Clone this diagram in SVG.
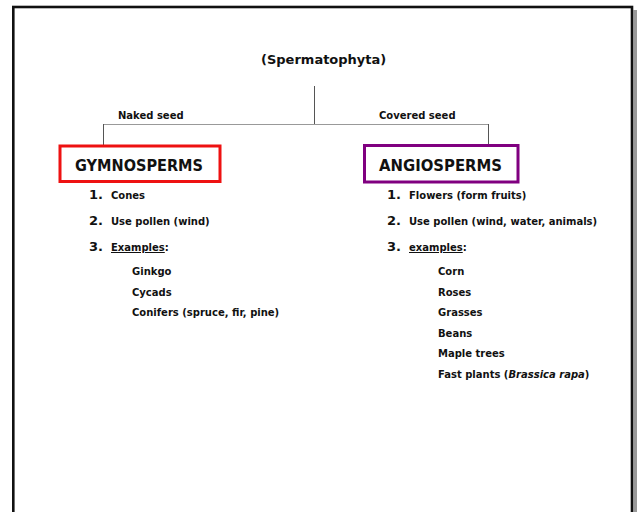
<svg xmlns="http://www.w3.org/2000/svg" width="640" height="512" viewBox="0 0 640 512">
<style>
.t{font-family:"DejaVu Sans","Verdana",sans-serif;font-weight:bold;font-size:10px;fill:#111}
.num{font-family:"DejaVu Sans","Verdana",sans-serif;font-weight:bold;font-size:13px;fill:#111}
.hd{font-family:"DejaVu Sans","Verdana",sans-serif;font-weight:bold;font-size:16.5px;fill:#111}
.ttl{font-family:"DejaVu Sans","Verdana",sans-serif;font-weight:bold;font-size:13px;fill:#111}
.conn{stroke:#555;stroke-width:1;fill:none}
</style>
<rect x="0" y="0" width="640" height="512" fill="#fff"/>
<rect x="633.5" y="10" width="3.5" height="510" fill="#9a9a9a"/>
<rect x="13.3" y="7" width="618.7" height="520" fill="#fff" stroke="#111" stroke-width="2.6"/>

<g id="connectors">
<line class="conn" x1="314.5" y1="86" x2="314.5" y2="124"/>
<line x1="103" y1="124.5" x2="488" y2="124.5" stroke="#999" stroke-width="1"/>
<line class="conn" x1="103.5" y1="124" x2="103.5" y2="145"/>
<line class="conn" x1="488.5" y1="124" x2="488.5" y2="144"/>
<text class="t" x="118" y="119">Naked seed</text>
<text class="t" x="379" y="119">Covered seed</text>
</g>

<g id="root">
<text class="ttl" x="261" y="64">(Spermatophyta)</text>
</g>

<g id="gymnosperms">
<rect x="60" y="146" width="160" height="35.5" fill="none" stroke="#ee1111" stroke-width="3"/>
<text class="hd" x="75" y="171" textLength="128" lengthAdjust="spacingAndGlyphs">GYMNOSPERMS</text>
<text class="num" x="89" y="199">1.</text><text class="t" x="111" y="199">Cones</text>
<text class="num" x="89" y="225">2.</text><text class="t" x="111" y="225">Use pollen (wind)</text>
<text class="num" x="89" y="251">3.</text><text class="t" x="111" y="251"><tspan text-decoration="underline">Examples</tspan>:</text>
<text class="t" x="132" y="275">Ginkgo</text>
<text class="t" x="132" y="296">Cycads</text>
<text class="t" x="132" y="316">Conifers (spruce, fir, pine)</text>
</g>

<g id="angiosperms">
<rect x="364.5" y="145.5" width="153.5" height="36.5" fill="none" stroke="#800080" stroke-width="3"/>
<text class="hd" x="379" y="171" textLength="123" lengthAdjust="spacingAndGlyphs">ANGIOSPERMS</text>
<text class="num" x="387" y="199">1.</text><text class="t" x="409" y="199">Flowers (form fruits)</text>
<text class="num" x="387" y="225">2.</text><text class="t" x="409" y="225">Use pollen (wind, water, animals)</text>
<text class="num" x="387" y="251">3.</text><text class="t" x="409" y="251"><tspan text-decoration="underline">examples</tspan>:</text>
<text class="t" x="438" y="275">Corn</text>
<text class="t" x="438" y="296">Roses</text>
<text class="t" x="438" y="316">Grasses</text>
<text class="t" x="438" y="337">Beans</text>
<text class="t" x="438" y="357">Maple trees</text>
<text class="t" x="438" y="378">Fast plants (<tspan font-style="italic">Brassica rapa</tspan>)</text>
</g>
</svg>
